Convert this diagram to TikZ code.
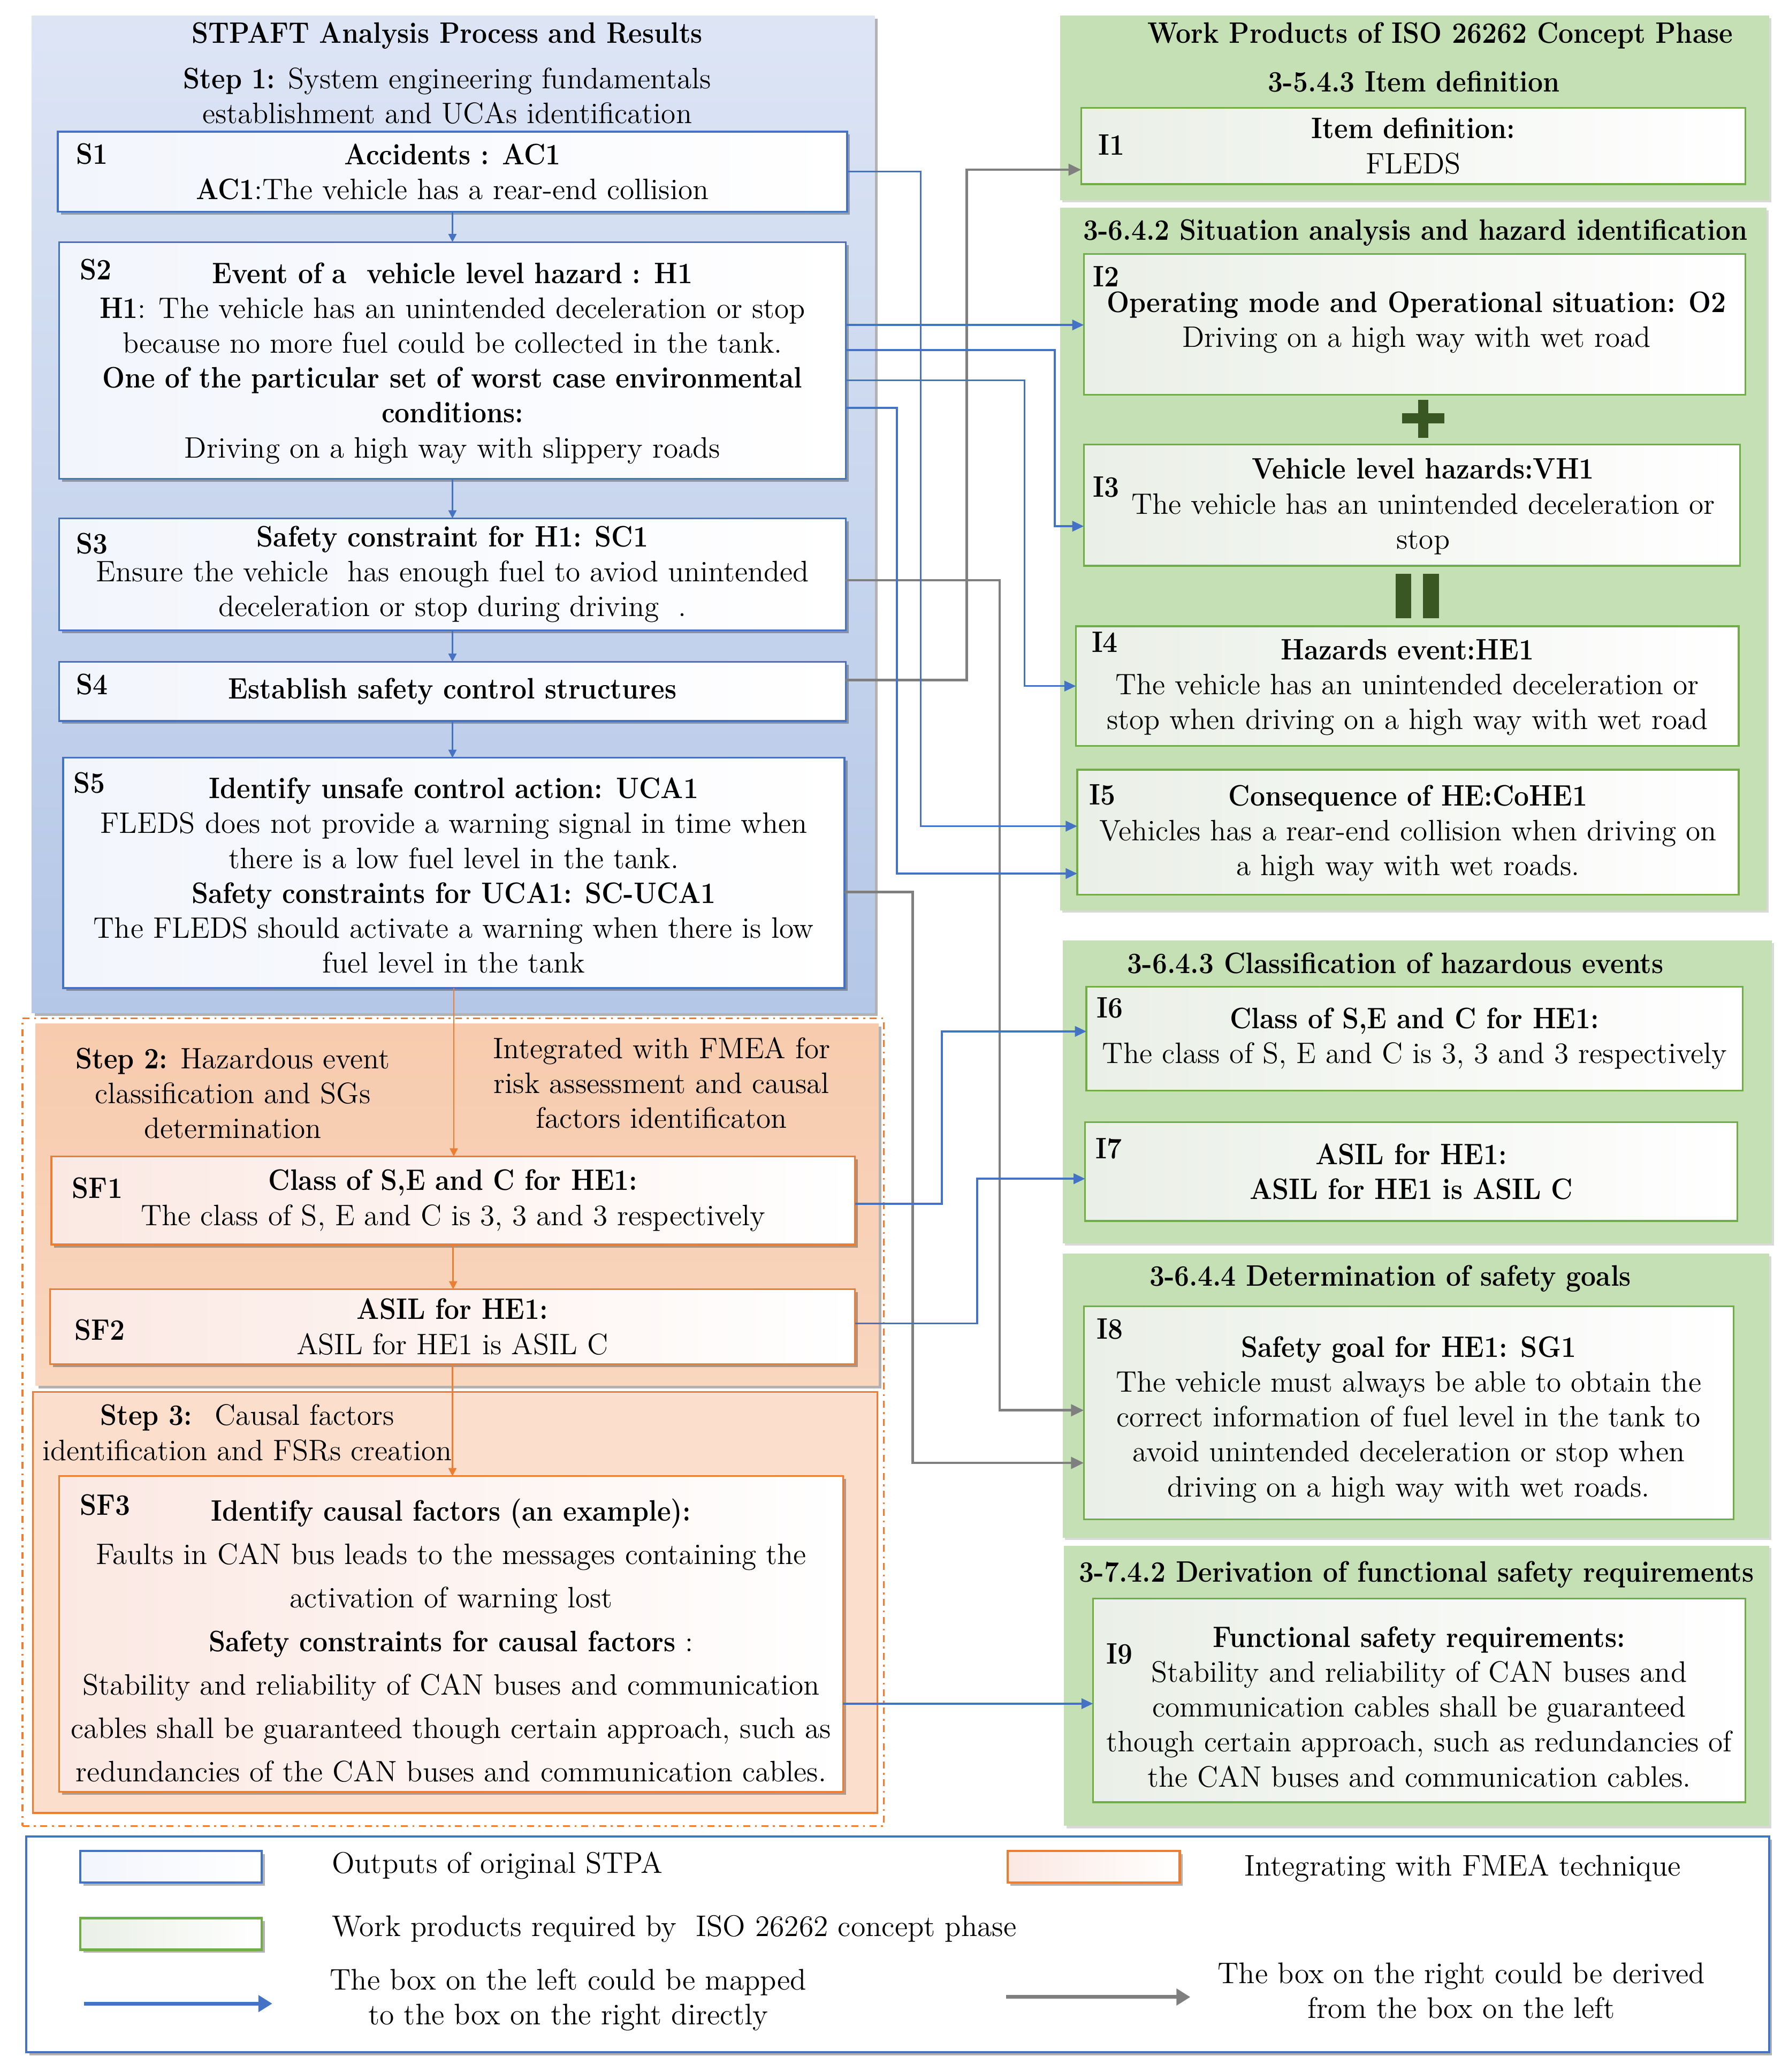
\documentclass[tikz,border=0pt]{standalone}
\usepackage{fontspec}
\setmainfont{Latin Modern Roman}[BoldFeatures={FakeStretch=0.9}]
\usetikzlibrary{fit,shadows,arrows.meta,calc}
\definecolor{bblue}{RGB}{68,114,196}
\definecolor{oorange}{RGB}{237,125,49}
\definecolor{ggreen}{RGB}{112,173,71}
\definecolor{gfill}{RGB}{197,224,180}
\definecolor{dgreen}{RGB}{56,87,35}
\definecolor{garrow}{RGB}{127,127,127}
\definecolor{ptop}{RGB}{221,229,245}
\definecolor{pbot}{RGB}{180,199,231}
\definecolor{peach}{RGB}{247,203,174}
\definecolor{peachb}{RGB}{249,214,190}
\definecolor{peachl}{RGB}{251,223,204}
\definecolor{sboxl}{RGB}{242,245,252}
\definecolor{fboxl}{RGB}{251,232,226}
\definecolor{iboxl}{RGB}{234,239,231}
\tikzset{
  x=0.02cm, y=-0.02cm,
  shad/.style={drop shadow={shadow xshift=1.3pt, shadow yshift=-1.3pt, opacity=0.3, fill=black}},
  lshad/.style={drop shadow={shadow xshift=1pt, shadow yshift=-1pt, opacity=0.15, fill=black}},
  frame/.style={inner sep=0pt, outer sep=0pt, fit={#1}},
  sbox/.style={frame={#1}, draw=bblue, line width=0.8pt, left color=sboxl, right color=white, shad},
  fbox/.style={frame={#1}, draw=oorange, line width=0.8pt, left color=fboxl, right color=white, shad},
  ibox/.style={frame={#1}, draw=ggreen, line width=0.8pt, left color=iboxl, right color=white},
  gpanel/.style={frame={#1}, fill=gfill, lshad},
  txt/.style={font=\fontsize{12.8}{15.1}\selectfont, align=center, inner sep=0pt},
  ttl/.style={font=\fontsize{12.8}{15.1}\selectfont\bfseries, align=center, inner sep=0pt},
  lbl/.style={font=\fontsize{12.8}{15.1}\selectfont\bfseries, inner sep=0pt},
  legt/.style={font=\fontsize{12.9}{15.1}\selectfont, align=center, inner sep=0pt},
  barr/.style={draw=bblue, line width=0.8pt, -{Triangle[length=5pt,width=4.5pt]}},
  garr/.style={draw=garrow, line width=1.1pt, -{Triangle[length=5.5pt,width=5pt]}},
  sarr/.style={draw=bblue, line width=0.6pt, -{Triangle[length=3.5pt,width=3.5pt]}},
  oarr/.style={draw=oorange, line width=0.6pt, -{Triangle[length=3.5pt,width=3.5pt]}},
}
\begin{document}
\begin{tikzpicture}
\useasboundingbox (0,0) rectangle (1360,1575);

% ---------------- left panels ----------------
\node[frame={(24,12) (665,770)}, top color=ptop, bottom color=pbot, shad] (leftpanel) {};
\node[ttl] (lt) at (340,27) {STPAFT Analysis Process and Results};
\node[txt] (step1) at (340,73) {\textbf{Step 1:} System engineering fundamentals\\establishment and UCAs identification};

\node[sbox={(44,100) (644,161)}] (s1) {};
\node[txt] (s1t) at (s1.center) {\textbf{Accidents : AC1}\\\textbf{AC1}:The vehicle has a rear-end collision};
\node[lbl] (s1l) at (70,117) {S1};

\node[sbox={(45,184) (643,364)}] (s2) {};
\node[txt] (s2t) at ($(s2.center)+(0,2)$) {\textbf{Event of a~ vehicle level hazard : H1}\\\textbf{H1}: The vehicle has an unintended deceleration or stop\\because no more fuel could be collected in the tank.\\\textbf{One of the particular set of worst case environmental}\\\textbf{conditions:}\\Driving on a high way with slippery roads};
\node[lbl] (s2l) at (73,205) {S2};

\node[sbox={(45,394) (643,479)}] (s3) {};
\node[txt] (s3t) at (s3.center) {\textbf{Safety constraint for H1: SC1}\\Ensure the vehicle~ has enough fuel to aviod unintended\\deceleration or stop during driving~ .};
\node[lbl] (s3l) at (70,413) {S3};

\node[sbox={(45,503) (643,548)}] (s4) {};
\node[txt] (s4t) at (s4.center) {\textbf{Establish safety control structures}};
\node[lbl] (s4l) at (70,520) {S4};

\node[sbox={(48,576) (642,751)}] (s5) {};
\node[txt] (s5t) at ($(s5.center)+(0,2)$) {\textbf{Identify unsafe control action: UCA1}\\FLEDS does not provide a warning signal in time when\\there is a low fuel level in the tank.\\\textbf{Safety constraints for UCA1: SC-UCA1}\\The FLEDS should activate a warning when there is low\\fuel level in the tank};
\node[lbl] (s5l) at (68,595) {S5};

% FMEA region
\node[frame={(27,778) (668,1053)}, top color=peach, bottom color=peachb, shad] (step2p) {};
\node[frame={(25,1058) (667,1378)}, draw=oorange, line width=0.8pt, fill=peachl] (step3p) {};
\node[frame={(17,774) (672,1388)}, draw=oorange, line width=0.8pt, dash dot] (fmea) {};

\node[txt] (step2) at (177,831) {\textbf{Step 2:} Hazardous event\\classification and SGs\\determination};
\node[txt] (integ) at (503,823) {Integrated with FMEA for\\risk assessment and causal\\factors identificaton};

\node[fbox={(39,879) (650,946)}] (sf1) {};
\node[txt] (sf1t) at (sf1.center) {\textbf{Class of S,E and C for HE1:}\\The class of S, E and C is 3, 3 and 3 respectively};
\node[lbl] (sf1l) at (74,903) {SF1};

\node[fbox={(38,980) (650,1037)}] (sf2) {};
\node[txt] (sf2t) at (sf2.center) {\textbf{ASIL for HE1:}\\ASIL for HE1 is ASIL C};
\node[lbl] (sf2l) at (76,1011) {SF2};

\node[txt] (step3) at (188,1089) {\textbf{Step 3:}~ Causal factors\\identification and FSRs creation};

\node[fbox={(45,1122) (641,1362)}] (sf3) {};
\node[txt, font=\fontsize{12.8}{18.8}\selectfont] (sf3t) at ($(sf3.center)+(0,5)$) {\textbf{Identify causal factors (an example):}\\Faults in CAN bus leads to the messages containing the\\activation of warning lost\\\textbf{Safety constraints for causal factors} :\\Stability and reliability of CAN buses and communication\\cables shall be guaranteed though certain approach, such as\\redundancies of the CAN buses and communication cables.};
\node[lbl] (sf3l) at (80,1144) {SF3};

% ---------------- right panels ----------------
\node[gpanel={(806,12) (1345,152)}] (g1) {};
\node[ttl] (g1t) at (1095,27) {Work Products of ISO 26262 Concept Phase};
\node[ttl] (g1s) at (1075,62) {3-5.4.3 Item definition};
\node[ibox={(822,82) (1327,140)}] (i1) {};
\node[txt] (i1t) at (i1.center) {\textbf{Item definition:}\\FLEDS};
\node[lbl] (i1l) at (845,110) {I1};

\node[gpanel={(806,158) (1343,692)}] (g2) {};
\node[ttl] (g2t) at (1076,177) {3-6.4.2 Situation analysis and hazard identification};
\node[ibox={(824,193) (1327,300)}] (i2) {};
\node[txt] (i2t) at (1077,245) {\textbf{Operating mode and Operational situation: O2}\\Driving on a high way with wet road};
\node[lbl] (i2l) at (841,210) {I2};
\fill[dgreen] (1066,314) rectangle (1098,322);
\fill[dgreen] (1078,304) rectangle (1086,333);
\node[ibox={(824,338) (1323,430)}] (i3) {};
\node[txt] (i3t) at (1082,385) {\textbf{Vehicle level hazards:VH1}\\The vehicle has an unintended deceleration or\\stop};
\node[lbl] (i3l) at (841,370) {I3};
\fill[dgreen] (1061,436) rectangle (1073,470);
\fill[dgreen] (1082,436) rectangle (1094,470);
\node[ibox={(818,476) (1322,567)}] (i4) {};
\node[txt] (i4t) at ($(i4.center)+(0,1)$) {\textbf{Hazards event:HE1}\\The vehicle has an unintended deceleration or\\stop when driving on a high way with wet road};
\node[lbl] (i4l) at (840,488) {I4};
\node[ibox={(819,585) (1322,680)}] (i5) {};
\node[txt] (i5t) at ($(i5.center)+(0,1)$) {\textbf{Consequence of HE:CoHE1}\\Vehicles has a rear-end collision when driving on\\a high way with wet roads.};
\node[lbl] (i5l) at (838,604) {I5};

\node[gpanel={(808,715) (1347,945)}] (g3) {};
\node[ttl] (g3t) at (1061,732) {3-6.4.3 Classification of hazardous events};
\node[ibox={(826,750) (1325,829)}] (i6) {};
\node[txt] (i6t) at (i6.center) {\textbf{Class of S,E and C for HE1:}\\The class of S, E and C is 3, 3 and 3 respectively};
\node[lbl] (i6l) at (844,766) {I6};
\node[ibox={(825,853) (1321,928)}] (i7) {};
\node[txt] (i7t) at (i7.center) {\textbf{ASIL for HE1:}\\\textbf{ASIL for HE1 is ASIL C}};
\node[lbl] (i7l) at (843,873) {I7};

\node[gpanel={(808,953) (1345,1169)}] (g4) {};
\node[ttl] (g4t) at (1057,972) {3-6.4.4 Determination of safety goals};
\node[ibox={(824,993) (1318,1155)}] (i8) {};
\node[txt] (i8t) at ($(i8.center)+(0,5)$) {\textbf{Safety goal for HE1: SG1}\\The vehicle must always be able to obtain the\\correct information of fuel level in the tank to\\avoid unintended deceleration or stop when\\driving on a high way with wet roads.};
\node[lbl] (i8l) at (844,1010) {I8};

\node[gpanel={(809,1175) (1345,1388)}] (g5) {};
\node[ttl] (g5t) at (1077,1197) {3-7.4.2 Derivation of functional safety requirements};
\node[ibox={(831,1215) (1327,1370)}] (i9) {};
\node[txt] (i9t) at ($(i9.center)+(0,5)$) {\textbf{Functional safety requirements:}\\Stability and reliability of CAN buses and\\communication cables shall be guaranteed\\though certain approach, such as redundancies of\\the CAN buses and communication cables.};
\node[lbl] (i9l) at (851,1257) {I9};

% ---------------- vertical flow arrows ----------------
\draw[sarr] (s1.south) -- (s1.south |- s2.north);
\draw[sarr] (s2.south) -- (s2.south |- s3.north);
\draw[sarr] (s3.south) -- (s3.south |- s4.north);
\draw[sarr] (s4.south) -- (s4.south |- s5.north);
\draw[oarr] (s5.south) -- (s5.south |- sf1.north);
\draw[oarr] (sf1.south) -- (sf1.south |- sf2.north);
\draw[oarr] (sf2.south) -- (sf2.south |- sf3.north);

% ---------------- mapping connectors ----------------
\coordinate (s2a) at ($(s2.east)+(0,-27)$);
\coordinate (s2b) at ($(s2.east)+(0,-8)$);
\coordinate (s2c) at ($(s2.east)+(0,15)$);
\coordinate (s2d) at ($(s2.east)+(0,36)$);
\coordinate (sf3a) at ($(sf3.east)+(0,53)$);
\draw[garr] ($(s4.east)+(0,-8.5)$) -- ++(92,0) |- ($(i1.west)+(0,18)$);
\draw[garr] ($(s3.east)+(0,4.5)$) -- ++(117,0) |- ($(i8.west)+(0,-2)$);
\draw[garr] ($(s5.east)+(0,14.5)$) -- ++(52,0) |- ($(i8.west)+(0,38)$);
\draw[barr] (s1.east) -- ++(56,0) |- ($(i5.west)+(0,-4.5)$);
\draw[barr] (s2a) -- (s2a -| i2.west);
\draw[barr] (s2b) -- ++(159,0) |- ($(i3.west)+(0,16)$);
\draw[barr] (s2c) -- ++(136,0) |- (i4.west);
\draw[barr] (s2d) -- ++(39,0) |- ($(i5.west)+(0,31.5)$);
\draw[barr] ($(sf1.east)+(0,2.5)$) -- ++(66,0) |- ($(i6.west)+(0,-5.5)$);
\draw[barr] ($(sf2.east)+(0,-2.5)$) -- ++(93,0) |- ($(i7.west)+(0,5.5)$);
\draw[barr] (sf3a) -- (sf3a -| i9.west);

% ---------------- legend ----------------
\node[frame={(20,1396) (1345,1560)}, draw=bblue, line width=1pt, fill=white, shad] (legend) {};
\node[frame={(61,1407) (199,1431)}, draw=bblue, line width=1pt, left color=sboxl, right color=white, shad] (lb1) {};
\node[frame={(766,1407) (897,1431)}, draw=oorange, line width=1pt, left color=fboxl, right color=white, shad] (lb2) {};
\node[frame={(61,1458) (199,1482)}, draw=ggreen, line width=1pt, left color=iboxl, right color=white, shad] (lb3) {};
\node[legt, anchor=west] (lt1) at (252,1418) {Outputs of original STPA};
\node[legt, anchor=west] (lt2) at (946,1420) {Integrating with FMEA technique};
\node[legt, anchor=west] (lt3) at (252,1466) {Work products required by~ ISO 26262 concept phase};
\node[legt] (lt4) at (432,1520) {The box on the left could be mapped\\to the box on the right directly};
\node[legt] (lt5) at (1111,1513) {The box on the right could be derived\\from the box on the left};
\coordinate (la1) at (64,1523);
\coordinate (la2) at (207,1523);
\coordinate (la3) at (765,1518);
\coordinate (la4) at (905,1518);
\draw[draw=bblue, line width=1.6pt, -{Triangle[length=6pt,width=7pt]}] (la1) -- (la2);
\draw[draw=garrow, line width=1.6pt, -{Triangle[length=6pt,width=7pt]}] (la3) -- (la4);
\end{tikzpicture}
\end{document}
